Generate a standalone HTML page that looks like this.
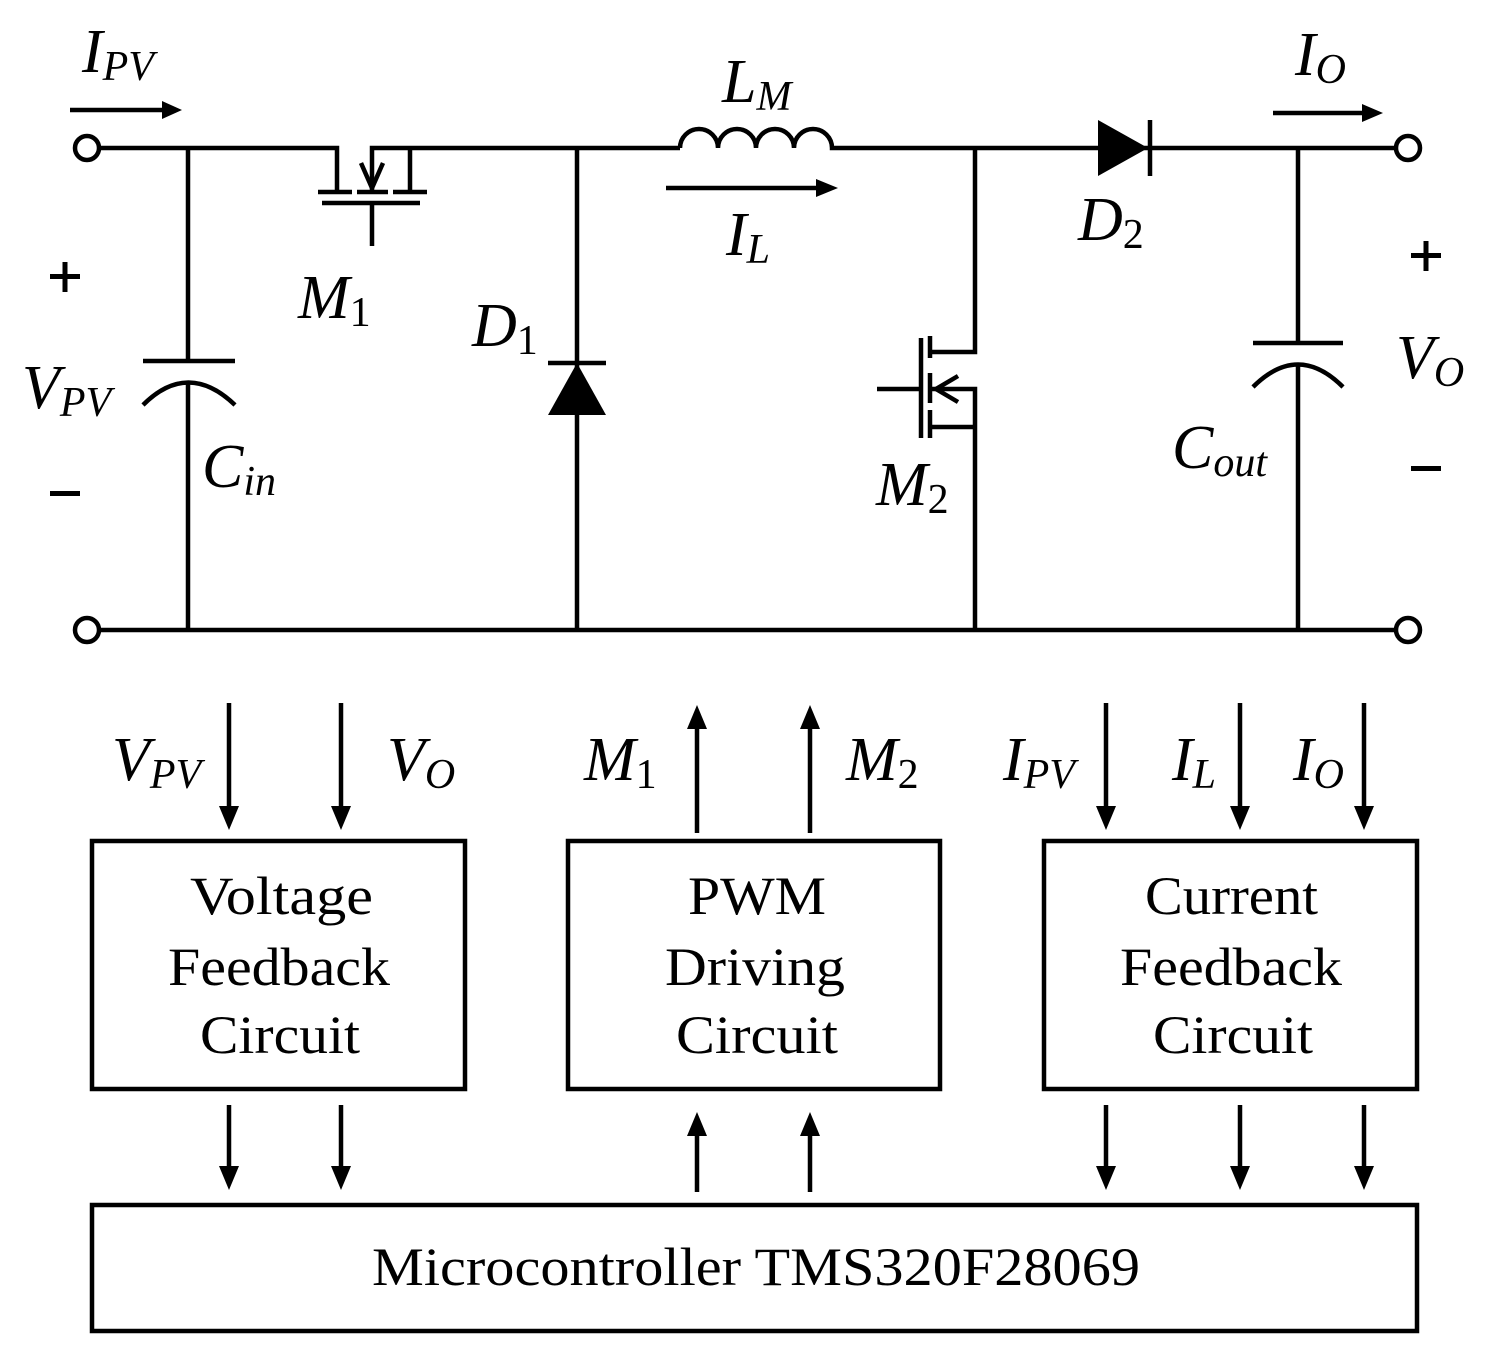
<!DOCTYPE html>
<html><head><meta charset="utf-8"><style>
html,body{margin:0;padding:0;background:#fff}
svg{display:block}
text{font-family:"Liberation Serif",serif;fill:#000}
.i{font-style:italic}
</style></head><body>
<svg width="1488" height="1353" viewBox="0 0 1488 1353" xmlns="http://www.w3.org/2000/svg">
<g stroke="#000" stroke-width="4.5" fill="none">
<path d="M99 148H337V192"/>
<path d="M318 192H352M357 192H388M393 192H427"/>
<path d="M322 203H420M372 203V246"/>
<path d="M372 192V148H680M410 148V192"/>
<path d="M361 163L372 188L383 163"/>
<path d="M680 148 a19 19 0 0 1 38 0 a19 19 0 0 1 38 0 a19 19 0 0 1 38 0 a19 19 0 0 1 38 0 H1396"/>
<path d="M1150 120V176"/>
<path d="M99 630H1396"/>
<path d="M188 148V361M143 361H235M188 383V630"/>
<path d="M143 405 Q188 360 235 405"/>
<path d="M1298 148V343M1253 343H1343M1298 365V630"/>
<path d="M1253 387 Q1298 342 1343 387"/>
<path d="M577 148V630M548 363H606"/>
<path d="M975 148V352H930M930 336V358M930 373V403M930 410V438M921 338V438M877 389H921M930 389H975V630M930 427H975"/>
<path d="M958 376L936 389L958 402"/>
<circle cx="87" cy="148" r="12" fill="#fff"/>
<circle cx="1408" cy="148" r="12" fill="#fff"/>
<circle cx="87" cy="630" r="12" fill="#fff"/>
<circle cx="1408" cy="630" r="12" fill="#fff"/>
<path d="M70 110H165M666 188H820M1273 113H1365"/>
<rect x="92" y="841" width="373" height="248"/>
<rect x="568" y="841" width="372" height="248"/>
<rect x="1044" y="841" width="373" height="248"/>
<rect x="92" y="1205" width="1325" height="126"/>
<path d="M229 703V812M341 703V812M1106 703V812M1240 703V812M1364 703V812"/>
<path d="M697 833V722M810 833V722"/>
<path d="M229 1105V1172M341 1105V1172M1106 1105V1172M1240 1105V1172M1364 1105V1172"/>
<path d="M697 1192V1130M810 1192V1130"/>
</g>
<g fill="#000">
<path d="M577 363L548 415H606Z"/>
<path d="M1148 148L1098 120V176Z"/>
<path d="M182 110L162 101V119Z"/>
<path d="M838 188L816 179V197Z"/>
<path d="M1383 113L1362 104V122Z"/>
<path d="M229 830L219 806H239Z"/><path d="M341 830L331 806H351Z"/>
<path d="M1106 830L1096 806H1116Z"/><path d="M1240 830L1230 806H1250Z"/><path d="M1364 830L1354 806H1374Z"/>
<path d="M229 1190L219 1166H239Z"/><path d="M341 1190L331 1166H351Z"/>
<path d="M1106 1190L1096 1166H1116Z"/><path d="M1240 1190L1230 1166H1250Z"/><path d="M1364 1190L1354 1166H1374Z"/>
<path d="M697 705L687 729H707Z"/><path d="M810 705L800 729H820Z"/>
<path d="M697 1112L687 1136H707Z"/><path d="M810 1112L800 1136H820Z"/>
<!-- plus/minus -->
<rect x="50" y="274" width="30" height="5"/><rect x="62.5" y="262" width="5" height="30"/>
<rect x="1411" y="253" width="30" height="5"/><rect x="1423.5" y="241" width="5" height="30"/>
<rect x="50" y="491" width="30" height="5"/>
<rect x="1411" y="466" width="30" height="5"/>
</g>
<g font-size="62">
<text x="82" y="72" class="i">I<tspan font-size="42" dy="8">PV</tspan></text>
<text x="722" y="102" class="i">L<tspan font-size="42" dy="8">M</tspan></text>
<text x="1295" y="75" class="i">I<tspan font-size="42" dy="8">O</tspan></text>
<text x="726" y="255" class="i">I<tspan font-size="42" dy="8">L</tspan></text>
<text x="1078" y="240" class="i">D<tspan font-size="42" dy="8" font-style="normal">2</tspan></text>
<text x="298" y="318" class="i">M<tspan font-size="42" dy="8" font-style="normal">1</tspan></text>
<text x="472" y="346" class="i">D<tspan font-size="42" dy="8" font-style="normal">1</tspan></text>
<text x="876" y="505" class="i">M<tspan font-size="42" dy="8" font-style="normal">2</tspan></text>
<text x="22" y="408" class="i">V<tspan font-size="42" dy="8">PV</tspan></text>
<text x="202" y="487" class="i">C<tspan font-size="42" dy="8">in</tspan></text>
<text x="1172" y="468" class="i">C<tspan font-size="42" dy="8">out</tspan></text>
<text x="1396" y="378" class="i">V<tspan font-size="42" dy="8">O</tspan></text>
<text x="112" y="780" class="i">V<tspan font-size="42" dy="8">PV</tspan></text>
<text x="387" y="780" class="i">V<tspan font-size="42" dy="8">O</tspan></text>
<text x="584" y="780" class="i">M<tspan font-size="42" dy="8" font-style="normal">1</tspan></text>
<text x="846" y="780" class="i">M<tspan font-size="42" dy="8" font-style="normal">2</tspan></text>
<text x="1003" y="780" class="i">I<tspan font-size="42" dy="8">PV</tspan></text>
<text x="1172" y="780" class="i">I<tspan font-size="42" dy="8">L</tspan></text>
<text x="1293" y="780" class="i">I<tspan font-size="42" dy="8">O</tspan></text>
</g>
<g font-size="54" lengthAdjust="spacingAndGlyphs">
<text x="190" y="914" textLength="183" lengthAdjust="spacingAndGlyphs">Voltage</text>
<text x="168" y="985" textLength="222" lengthAdjust="spacingAndGlyphs">Feedback</text>
<text x="200" y="1053" textLength="160" lengthAdjust="spacingAndGlyphs">Circuit</text>
<text x="688" y="914" textLength="138" lengthAdjust="spacingAndGlyphs">PWM</text>
<text x="665" y="985" textLength="180" lengthAdjust="spacingAndGlyphs">Driving</text>
<text x="676" y="1053" textLength="162" lengthAdjust="spacingAndGlyphs">Circuit</text>
<text x="1145" y="914" textLength="173" lengthAdjust="spacingAndGlyphs">Current</text>
<text x="1120" y="985" textLength="222" lengthAdjust="spacingAndGlyphs">Feedback</text>
<text x="1153" y="1053" textLength="160" lengthAdjust="spacingAndGlyphs">Circuit</text>
<text x="372" y="1285" textLength="768" lengthAdjust="spacingAndGlyphs">Microcontroller TMS320F28069</text>
</g>
</svg>
</body></html>
